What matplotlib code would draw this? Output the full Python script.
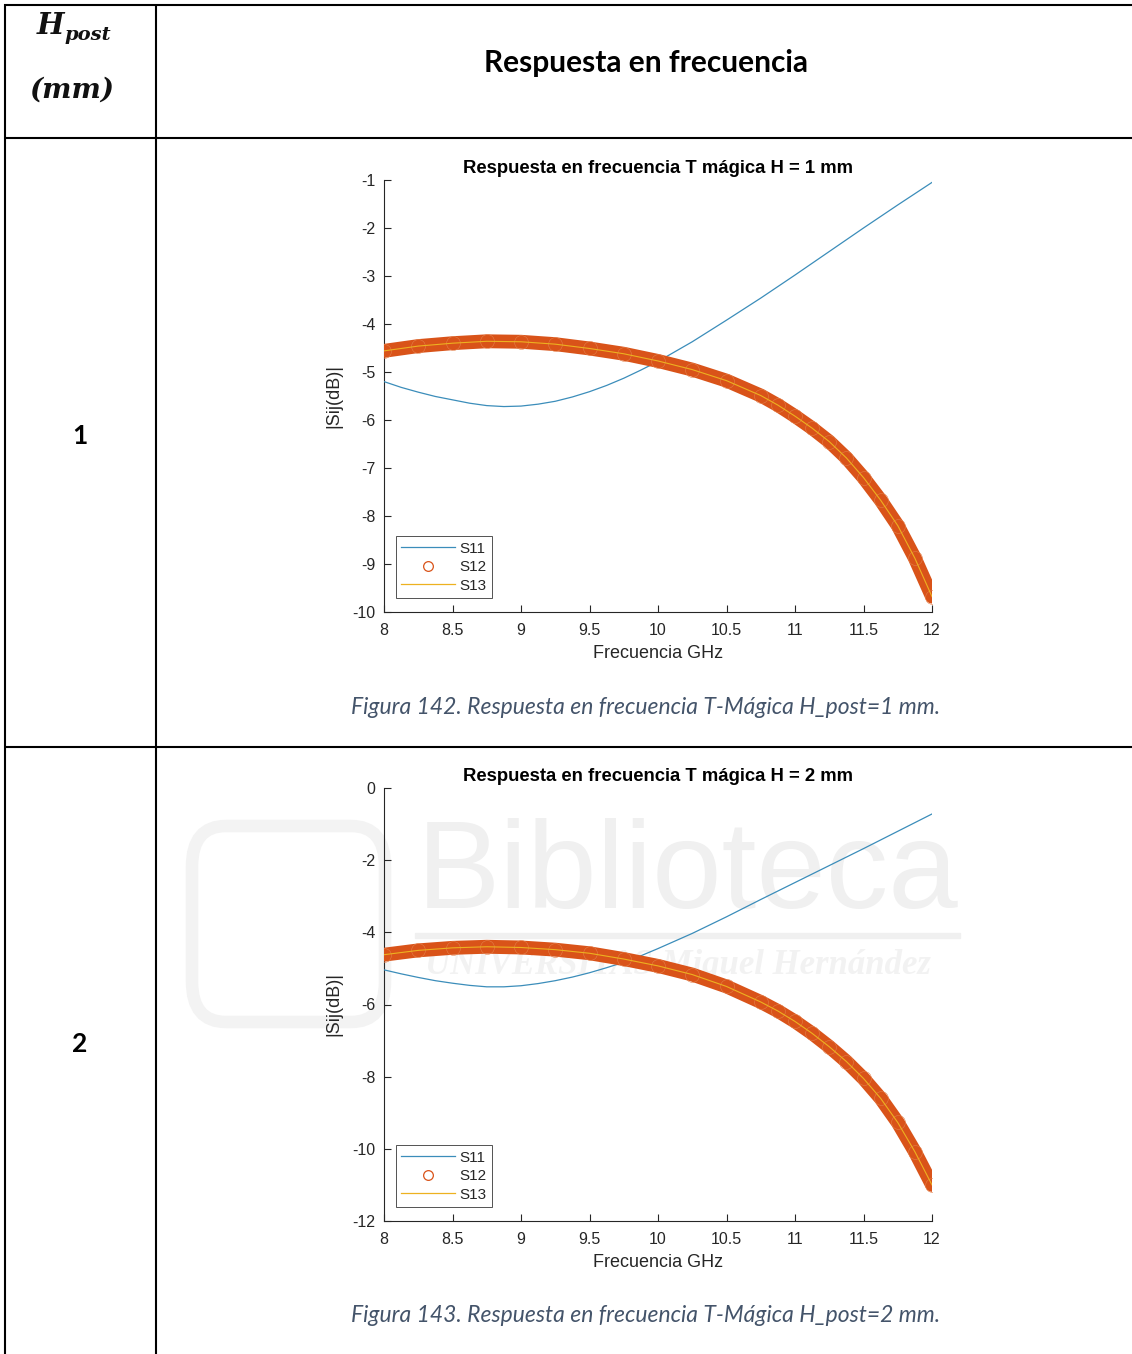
import matplotlib
matplotlib.use("Agg")
import matplotlib.pyplot as plt
from matplotlib.lines import Line2D
from matplotlib.patches import FancyBboxPatch, Rectangle

# ---------------- data ----------------
freq_s11 = [8.0, 8.125, 8.25, 8.375, 8.5, 8.625, 8.75, 8.875, 9.0, 9.125, 9.25,
            9.375, 9.5, 9.625, 9.75, 9.875, 10.0, 10.25, 10.5, 10.75, 11.0, 11.25,
            11.5, 11.75, 12.0]
freq_s12 = [8.0, 8.25, 8.5, 8.75, 9.0, 9.25, 9.5, 9.75, 10.0, 10.25, 10.5, 10.75,
            10.875, 11.0, 11.125, 11.25, 11.375, 11.5, 11.625, 11.75, 11.875, 12.0]

s11_h1 = [-5.20, -5.32, -5.42, -5.51, -5.58, -5.65, -5.70, -5.72, -5.71, -5.67,
          -5.61, -5.52, -5.41, -5.28, -5.13, -4.96, -4.78, -4.37, -3.92, -3.46,
          -2.98, -2.49, -2.00, -1.52, -1.05]
s12_h1 = [-4.56, -4.46, -4.40, -4.36, -4.37, -4.42, -4.51, -4.62, -4.77, -4.95,
          -5.18, -5.49, -5.69, -5.92, -6.17, -6.45, -6.79, -7.20, -7.67, -8.20,
          -8.88, -9.68]
s13_h1 = [-4.56, -4.46, -4.40, -4.36, -4.37, -4.42, -4.51, -4.62, -4.77, -4.95,
          -5.18, -5.49, -5.69, -5.92, -6.17, -6.45, -6.79, -7.20, -7.67, -8.20,
          -8.88, -9.68]

s11_h2 = [-5.04, -5.15, -5.25, -5.34, -5.41, -5.47, -5.51, -5.51, -5.48, -5.42,
          -5.34, -5.24, -5.12, -4.98, -4.83, -4.65, -4.45, -4.03, -3.57, -3.09,
          -2.62, -2.15, -1.68, -1.20, -0.72]
s12_h2 = [-4.62, -4.50, -4.43, -4.40, -4.42, -4.48, -4.58, -4.74, -4.93, -5.17,
          -5.50, -5.93, -6.18, -6.47, -6.80, -7.17, -7.58, -8.05, -8.60, -9.27,
          -10.08, -11.00]
s13_h2 = [-4.62, -4.50, -4.43, -4.40, -4.42, -4.48, -4.58, -4.74, -4.93, -5.17,
          -5.50, -5.93, -6.18, -6.47, -6.80, -7.17, -7.58, -8.05, -8.60, -9.27,
          -10.08, -11.00]

h_values = ["1", "2"]
plot_titles = ["Respuesta en frecuencia T mágica H = 1 mm",
               "Respuesta en frecuencia T mágica H = 2 mm"]
captions = ["Figura 142. Respuesta en frecuencia T-Mágica H_post=1 mm.",
            "Figura 143. Respuesta en frecuencia T-Mágica H_post=2 mm."]
x_ticks = [8, 8.5, 9, 9.5, 10, 10.5, 11, 11.5, 12]
x_ticklabels = ["8", "8.5", "9", "9.5", "10", "10.5", "11", "11.5", "12"]
y_ticks_1 = [-10, -9, -8, -7, -6, -5, -4, -3, -2, -1]
y_ticks_2 = [-12, -10, -8, -6, -4, -2, 0]
series_names = ["S11", "S12", "S13"]

# ---------------- layout ----------------
W, H = 1132, 1354
fig = plt.figure(figsize=(W / 100, H / 100), dpi=100)
fig.patch.set_facecolor("white")


def fx(px):
    return px / W


def fy(py):
    return 1 - py / H


def hline(y, x0, x1, lw=1.5):
    fig.add_artist(Line2D([fx(x0), fx(x1)], [fy(y), fy(y)], transform=fig.transFigure,
                          color="black", lw=lw, solid_capstyle="butt"))


def vline(x, y0, y1, lw=1.5):
    fig.add_artist(Line2D([fx(x), fx(x)], [fy(y0), fy(y1)], transform=fig.transFigure,
                          color="black", lw=lw, solid_capstyle="butt"))


# table grid
hline(5, 4, W)
hline(138, 4, W)
hline(747, 4, W)
vline(5, 4, H)
vline(156, 4, H)

# header texts
fig.text(fx(50), fy(26), "H", ha="center", va="center", fontsize=21,
         family="DejaVu Serif", style="italic", weight="bold", color="#111111")
fig.text(fx(88), fy(35), "post", ha="center", va="center", fontsize=14,
         family="DejaVu Serif", style="italic", weight="bold", color="#111111")
fig.text(fx(72), fy(90), "(mm)", ha="center", va="center", fontsize=20,
         family="DejaVu Serif", style="italic", weight="bold", color="#111111")
fig.text(fx(646), fy(63), "Respuesta en frecuencia", ha="center", va="center",
         fontsize=21.5, family="Lato", weight="bold", color="black")

row_centers = [436, 1044]
caption_y = [707, 1316]
for i in range(2):
    fig.text(fx(80), fy(row_centers[i]), h_values[i], ha="center", va="center",
             fontsize=19, family="Lato", weight="bold", color="black")
    fig.text(fx(646), fy(caption_y[i]), captions[i], ha="center", va="center",
             fontsize=16.5, family="Lato", style="italic", color="#44546A")

# watermark (very faint, behind plot 2)
wm = "#f0f0f0"
fig.text(fx(688), fy(876), "Biblioteca", ha="center", va="center", fontsize=90,
         family="Liberation Sans", color=wm, zorder=-5)
fig.add_artist(Rectangle((fx(415), fy(938)), (960 - 415) / W, 5 / H,
                         transform=fig.transFigure, color=wm, zorder=-5))
fig.text(fx(678), fy(965), "UNIVERSITAS Miguel Hernández", ha="center", va="center",
         fontsize=25, family="Liberation Serif", style="italic", weight="bold",
         color="#f2f2f2", zorder=-5)
fig.add_artist(FancyBboxPatch((fx(192), fy(1022)), (385 - 192) / W, (1022 - 826) / H,
                              boxstyle="round,pad=0,rounding_size=0.03",
                              transform=fig.transFigure, fill=False,
                              ec="#f3f3f3", lw=9, zorder=-5))

# ---------------- plots ----------------
c11 = "#3b8dba"
c12 = "#D95319"
c13 = "#EDB120"
axcol = "#262626"

axes_boxes = [(384, 180, 932, 612), (384, 788, 932, 1221)]
data = [(s11_h1, s12_h1, s13_h1, (-10, -1), y_ticks_1),
        (s11_h2, s12_h2, s13_h2, (-12, 0), y_ticks_2)]

for i, (box, (s11, s12, s13, ylim, yt)) in enumerate(zip(axes_boxes, data)):
    x0, y0, x1, y1 = box
    ax = fig.add_axes([fx(x0), fy(y1), (x1 - x0) / W, (y1 - y0) / H])
    ax.set_facecolor("none")
    # S11
    ax.plot(freq_s11, s11, color=c11, lw=0.9, zorder=3)
    # S12 dense circle band
    ax.plot(freq_s12, s12, color=c12, lw=10, solid_capstyle="round",
            solid_joinstyle="round", zorder=4)
    ax.plot(freq_s12, s12, ls="none", marker="o", ms=10, mfc="none", mec="#e3804a",
            mew=0.4, zorder=5)
    # S13 on top
    ax.plot(freq_s12, s13, color=c13, lw=0.8, zorder=6)

    ax.set_xlim(8, 12)
    ax.set_ylim(*ylim)
    ax.set_xticks(x_ticks)
    ax.set_xticklabels(x_ticklabels)
    ax.set_yticks(yt)
    ax.set_yticklabels([str(v) for v in yt])
    for s in ["top", "right"]:
        ax.spines[s].set_visible(False)
    for s in ["left", "bottom"]:
        ax.spines[s].set_color(axcol)
        ax.spines[s].set_linewidth(0.8)
    ax.tick_params(direction="in", length=5, width=0.8, colors=axcol,
                   labelsize=11.5)
    ax.tick_params(axis="x", pad=8)
    ax.tick_params(axis="y", pad=6)
    for lab in ax.get_xticklabels() + ax.get_yticklabels():
        lab.set_family("Liberation Sans")
        lab.set_color(axcol)
    ax.set_title(plot_titles[i], fontsize=13.3, weight="bold", family="Liberation Sans",
                 color="black", pad=5)
    ax.set_xlabel("Frecuencia GHz", fontsize=13, family="Liberation Sans",
                  color=axcol, labelpad=5)
    ax.set_ylabel("|Sij(dB)|", fontsize=13, family="Liberation Sans",
                  color=axcol, labelpad=7)

    handles = [Line2D([], [], color=c11, lw=0.9),
               Line2D([], [], ls="none", marker="o", ms=7, mfc="none", mec=c12, mew=0.9),
               Line2D([], [], color=c13, lw=0.9)]
    leg = ax.legend(handles, series_names, loc="lower left",
                    bbox_to_anchor=(0.022, 0.032), prop={"family": "Liberation Sans", "size": 11},
                    frameon=True, fancybox=False, handlelength=3.5, handletextpad=0.3,
                    borderpad=0.35, labelspacing=0.3, borderaxespad=0)
    leg.get_frame().set_edgecolor(axcol)
    leg.get_frame().set_linewidth(0.7)
    for t in leg.get_texts():
        t.set_color(axcol)

fig.savefig("out.png", dpi=100, facecolor="white")
